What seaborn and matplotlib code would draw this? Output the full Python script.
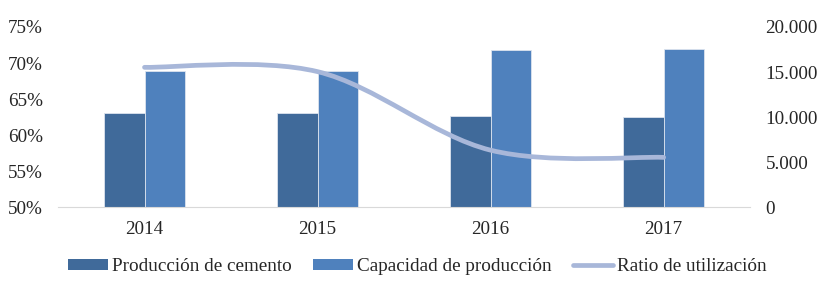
import matplotlib
matplotlib.use("Agg")
import matplotlib.pyplot as plt
from matplotlib.lines import Line2D
from matplotlib.patches import Patch, PathPatch
from matplotlib.path import Path
import pandas as pd
import seaborn as sns

years = ["2014", "2015", "2016", "2017"]
produccion = [10450, 10400, 10100, 9970]
capacidad = [15110, 15100, 17440, 17560]
ratio = [69.4, 68.8, 57.9, 56.9]

left_ticks = [50, 55, 60, 65, 70, 75]
left_labels = ["50%", "55%", "60%", "65%", "70%", "75%"]
right_ticks = [0, 5000, 10000, 15000, 20000]
right_labels = ["0", "5.000", "10.000", "15.000", "20.000"]

series_names = ["Producción de cemento", "Capacidad de producción", "Ratio de utilización"]
colors = ["#406A9A", "#4F81BD", "#A8B7D9"]

df = pd.DataFrame({
    "year": years * 2,
    "value": produccion + capacidad,
    "serie": [series_names[0]] * 4 + [series_names[1]] * 4,
})

sns.set_style("white")
plt.rcParams["font.family"] = ["Liberation Serif", "DejaVu Serif"]
fs = 13.8

fig = plt.figure(figsize=(8.26, 2.81), dpi=100)
ax = fig.add_axes([0.0702, 0.263, 0.838, 0.641])

sns.barplot(
    data=df, x="year", y="value", hue="serie",
    palette=colors[:2], width=0.47, saturation=1,
    edgecolor="#DCE3EE", linewidth=0.6, legend=False, ax=ax,
)
ax.set_xlabel("")
ax.set_ylabel("")

# ratio line on twin axis (drawn on top of the bars)
ax2 = ax.twinx()

# bars axis -> labels on the right, ratio axis -> labels on the left
ax.set_ylim(0, 20000)
ax.set_xlim(-0.5, 3.5)
ax.yaxis.tick_right()
ax.set_yticks(right_ticks)
ax.set_yticklabels(right_labels)
ax2.yaxis.tick_left()
ax2.set_ylim(50, 75)
ax2.set_yticks(left_ticks)
ax2.set_yticklabels(left_labels)

# smoothed line (Catmull-Rom style bezier through the data points)
xs = list(range(len(years)))
pts = list(zip(xs, ratio))
verts = [pts[0]]
codes = [Path.MOVETO]
for i in range(len(pts) - 1):
    p0 = pts[i - 1] if i > 0 else pts[i]
    p1 = pts[i]
    p2 = pts[i + 1]
    p3 = pts[i + 2] if i + 2 < len(pts) else pts[i + 1]
    c1 = (p1[0] + (p2[0] - p0[0]) / 6, p1[1] + (p2[1] - p0[1]) / 6)
    c2 = (p2[0] - (p3[0] - p1[0]) / 6, p2[1] - (p3[1] - p1[1]) / 6)
    verts += [c1, c2, p2]
    codes += [Path.CURVE4] * 3
ax2.add_patch(PathPatch(Path(verts, codes), facecolor="none",
                        edgecolor=colors[2], lw=3.4, capstyle="round"))

for a in (ax, ax2):
    for s in ["top", "left", "right"]:
        a.spines[s].set_visible(False)
    a.spines["bottom"].set_color("#D9D9D9")
    a.tick_params(axis="y", length=0, pad=11, labelsize=fs)
ax2.spines["bottom"].set_visible(False)

ax.set_xticks(xs)
ax.set_xticklabels(years)
ax.set_xticks([-0.5, 0.5, 1.5, 2.5, 3.5], minor=True)
ax.tick_params(axis="x", which="major", length=0, pad=10, labelsize=fs)
ax.tick_params(axis="x", which="minor", length=5, color="#D9D9D9", width=1)

handles = [
    Patch(facecolor=colors[0], edgecolor="none"),
    Patch(facecolor=colors[1], edgecolor="none"),
    Line2D([0], [0], color=colors[2], lw=3.4),
]
fig.legend(handles, series_names, loc="center", bbox_to_anchor=(0.505, 0.05),
           ncol=3, frameon=False, handlelength=2.1, handleheight=0.55,
           handletextpad=0.2, columnspacing=1.1, fontsize=fs)

fig.savefig("out.png", dpi=100)
